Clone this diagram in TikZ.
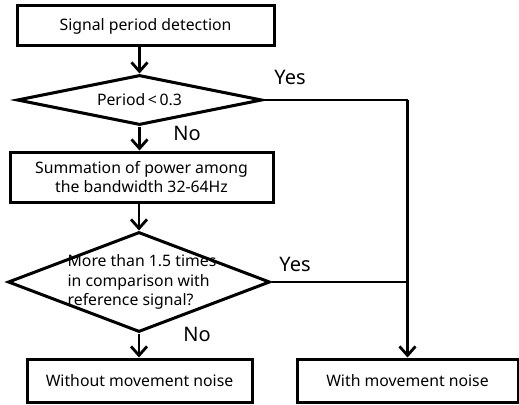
\documentclass[tikz,border=0pt]{standalone}
\usepackage{fontspec}
\setmainfont{Noto Sans}
\usetikzlibrary{shapes.geometric,arrows.meta}
\begin{document}
\begin{tikzpicture}[x=1pt,y=-1pt,
  box/.style={draw,line width=3pt,rectangle,inner sep=0pt,font=\fontsize{15.8}{19.5}\selectfont,align=center},
  dia/.style={draw,line width=3pt,diamond,inner sep=0pt},
  conn/.style={line width=2.8pt},
  arr/.style={conn,-{Straight Barb[length=9pt,width=16pt,line width=2.8pt]}},
  lab/.style={font=\fontsize{20}{22}\selectfont,inner sep=0pt}]
\useasboundingbox (0,0) rectangle (519,404);
\node[box,minimum width=257pt,minimum height=40pt] (b1) at (145.5,26) {Signal period detection};
\node[dia,minimum width=245pt,minimum height=50pt] (d1) at (139.5,100) {};
\node[font=\fontsize{15.8}{18}\selectfont] (d1t) at (d1) {Period\,<\,0.3};
\node[box,minimum width=263pt,minimum height=50pt] (b2) at (141.5,177) {Summation of power among\\the bandwidth 32-64Hz};
\node[dia,minimum width=262pt,minimum height=100pt] (d2) at (139,282) {};
\node[font=\fontsize{15.8}{19.5}\selectfont,align=left,inner sep=0pt] (d2t) at (142,282) {More than 1.5 times\\in comparison with\\reference signal?};
\node[box,minimum width=225pt,minimum height=43pt] (b3) at (139.5,380.5) {Without movement noise};
\node[box,minimum width=221pt,minimum height=43pt] (b4) at (407.5,380.5) {With movement noise};
\coordinate (j1) at (b4.north |- d1.east);
\coordinate (j2) at (b4.north |- d2.east);
\draw[arr] (b1.south -| d1.north) -- (d1.north);
\draw[arr] (d1.south) -- (d1.south |- b2.north);
\draw[arr] (d2.north |- b2.south) -- (d2.north);
\draw[arr] (d2.south) -- (d2.south |- b3.north);
\draw[conn] (d1.east) -- (j1);
\draw[arr] (j1) -- (b4.north);
\draw[conn] (d2.east) -- (j2);
\node[lab] (y1) at (290,77) {Yes};
\node[lab] (n1) at (187,133) {No};
\node[lab] (y2) at (295,264) {Yes};
\node[lab] (n2) at (197,334) {No};
\end{tikzpicture}
\end{document}
